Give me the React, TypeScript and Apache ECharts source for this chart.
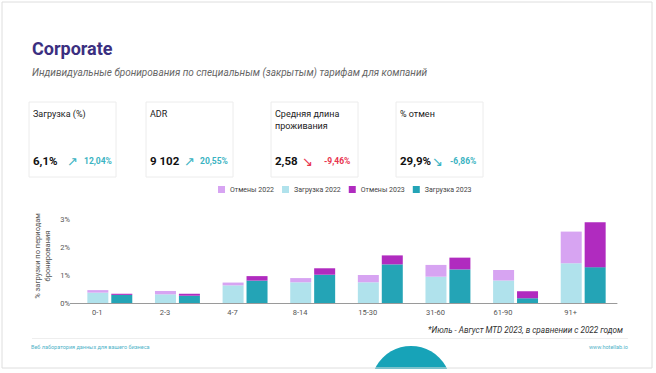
import React, { useEffect, useRef } from "react";
import * as echarts from "echarts";

const categories = ["0-1", "2-3", "4-7", "8-14", "15-30", "31-60", "61-90", "91+"];
const load2022 = [0.37, 0.31, 0.63, 0.74, 0.74, 0.94, 0.8, 1.42];
const cancel2022 = [0.09, 0.12, 0.1, 0.15, 0.26, 0.42, 0.38, 1.13];
const load2023 = [0.29, 0.26, 0.8, 1.01, 1.38, 1.2, 0.17, 1.28];
const cancel2023 = [0.04, 0.07, 0.16, 0.23, 0.32, 0.42, 0.25, 1.6];
const yTicks = [0, 1, 2, 3];

const kpiLabels = ["Загрузка (%)", "ADR", "Средняя длина\nпроживания", "% отмен"];
const kpiValues = ["6,1%", "9 102", "2,58", "29,9%"];
const kpiChanges = ["12,04%", "20,55%", "-9,46%", "-6,86%"];
const kpiArrows = ["↗", "↗", "↘", "↘"];
const kpiGood = [true, true, false, true];

const COLORS = {
  cancel2022: "#d7a4f2",
  load2022: "#b0e2ec",
  cancel2023: "#b02bbf",
  load2023: "#24a4b6",
};

const FONT = "Roboto, 'DejaVu Sans', sans-serif";

export default function App() {
  const ref = useRef<HTMLDivElement>(null);
  useEffect(() => {
    document.body.style.margin = "0";
    const chart = echarts.init(ref.current!, undefined, { renderer: "svg" });

    const cardX = [29, 146, 271, 396];
    const cards: any[] = [];
    kpiLabels.forEach((lab, i) => {
      const x = cardX[i];
      cards.push({
        type: "rect",
        shape: { x: x, y: 102, width: 87, height: 75 },
        style: { fill: "#fff", stroke: "#ececec", lineWidth: 1 },
        z: 1,
      });
      cards.push({
        type: "text",
        x: x + 4,
        y: 108,
        style: { text: lab, fontSize: 9, lineHeight: 12, fill: "#222", fontFamily: FONT },
        z: 2,
      });
      cards.push({
        type: "text",
        x: x + 4,
        y: 161,
        style: { text: kpiValues[i], fontSize: 11.5, fontWeight: "bold", fill: "#111", fontFamily: FONT, verticalAlign: "middle" },
        z: 2,
      });
    });
    const arrowX = [67, 184, 302, 432];
    const changeX = [84, 200, 324, 450];
    kpiChanges.forEach((c, i) => {
      const col = kpiGood[i] ? "#3ab3c2" : "#e8344e";
      cards.push({
        type: "text",
        x: arrowX[i],
        y: 161,
        style: { text: kpiArrows[i], fontSize: 13, fill: col, fontFamily: "'DejaVu Sans', sans-serif", verticalAlign: "middle" },
        z: 2,
      });
      cards.push({
        type: "text",
        x: changeX[i],
        y: 161,
        style: { text: c, fontSize: 8.5, fontWeight: "bold", fill: col, fontFamily: FONT, verticalAlign: "middle" },
        z: 2,
      });
    });

    chart.setOption({
      animation: false,
      backgroundColor: "#fff",
      textStyle: { fontFamily: FONT },
      legend: {
        data: ["Отмены 2022", "Загрузка 2022", "Отмены 2023", "Загрузка 2023"],
        left: 213,
        top: 181,
        itemWidth: 7,
        itemHeight: 7,
        itemGap: 8,
        icon: "rect",
        textStyle: { fontSize: 7, color: "#444", fontFamily: FONT },
      },
      grid: { left: 76, right: 39, top: 219, bottom: 70 },
      xAxis: {
        type: "category",
        data: categories,
        axisLine: { lineStyle: { color: "#9a9a9a" } },
        axisTick: { show: false },
        axisLabel: { fontSize: 7.5, color: "#555", margin: 5, padding: [0, 25, 0, 0] },
      },
      yAxis: {
        type: "value",
        min: yTicks[0],
        max: yTicks[yTicks.length - 1],
        interval: 1,
        splitLine: { show: false },
        axisLine: { show: false },
        axisTick: { show: false },
        axisLabel: { fontSize: 7.5, color: "#555", margin: 6, formatter: "{value}%" },
      },
      series: [
        { name: "Загрузка 2022", type: "bar", stack: "y2022", data: load2022, barWidth: 21, barGap: "14%", itemStyle: { color: COLORS.load2022 } },
        { name: "Отмены 2022", type: "bar", stack: "y2022", data: cancel2022, barWidth: 21, itemStyle: { color: COLORS.cancel2022 } },
        { name: "Загрузка 2023", type: "bar", stack: "y2023", data: load2023, barWidth: 21, barGap: "14%", itemStyle: { color: COLORS.load2023 } },
        { name: "Отмены 2023", type: "bar", stack: "y2023", data: cancel2023, barWidth: 21, itemStyle: { color: COLORS.cancel2023 } },
      ],
      graphic: [
        {
          type: "circle",
          shape: { cx: 411, cy: 386, r: 40 },
          style: { fill: "#17a3b8" },
          z: 0,
        },
        {
          type: "rect",
          shape: { x: 0, y: 369, width: 656, height: 4 },
          style: { fill: "#fff" },
          z: 0,
        },
        {
          type: "rect",
          shape: { x: 2, y: 2, width: 650, height: 366 },
          style: { fill: "none", stroke: "#dedede", lineWidth: 1 },
          z: 0,
        },
        {
          type: "text",
          x: 32,
          y: 48,
          style: { text: "Corporate", fontSize: 18, fontWeight: "bold", fill: "#3b2f80", fontFamily: FONT, verticalAlign: "middle" },
        },
        {
          type: "text",
          x: 32,
          y: 72,
          style: {
            text: "Индивидуальные бронирования по специальным (закрытым) тарифам для компаний",
            fontSize: 10,
            fontStyle: "italic",
            fill: "#666",
            fontFamily: FONT,
            verticalAlign: "middle",
          },
        },
        ...cards,
        {
          type: "text",
          x: 42,
          y: 256,
          rotation: Math.PI / 2,
          style: {
            text: "% загрузки по периодам\nбронирования",
            fontSize: 7.5,
            lineHeight: 10,
            fill: "#555",
            fontFamily: FONT,
            align: "center",
            verticalAlign: "middle",
          },
        },
        {
          type: "line",
          shape: { x1: 70, y1: 303.5, x2: 76, y2: 303.5 },
          style: { stroke: "#9a9a9a", lineWidth: 1 },
        },
        {
          type: "text",
          x: 623,
          y: 330,
          style: {
            text: "*Июль - Август MTD 2023, в сравнении с 2022 годом",
            fontSize: 8.2,
            fontStyle: "italic",
            fill: "#333",
            fontFamily: FONT,
            align: "right",
            verticalAlign: "middle",
          },
        },
        {
          type: "line",
          shape: { x1: 32, y1: 338.5, x2: 628, y2: 338.5 },
          style: { stroke: "#eeeeee", lineWidth: 1 },
        },
        {
          type: "text",
          x: 31,
          y: 347,
          style: { text: "Веб лаборатория данных для вашего бизнеса", fontSize: 5.5, fill: "#4fb3c8", fontFamily: FONT, verticalAlign: "middle" },
        },
        {
          type: "text",
          x: 628,
          y: 347,
          style: { text: "www.hotellab.io", fontSize: 5.5, fill: "#4fb3c8", fontFamily: FONT, align: "right", verticalAlign: "middle" },
        },
      ],
    });
    return () => chart.dispose();
  }, []);
  return <div ref={ref} style={{ width: 656, height: 373 }} />;
}
